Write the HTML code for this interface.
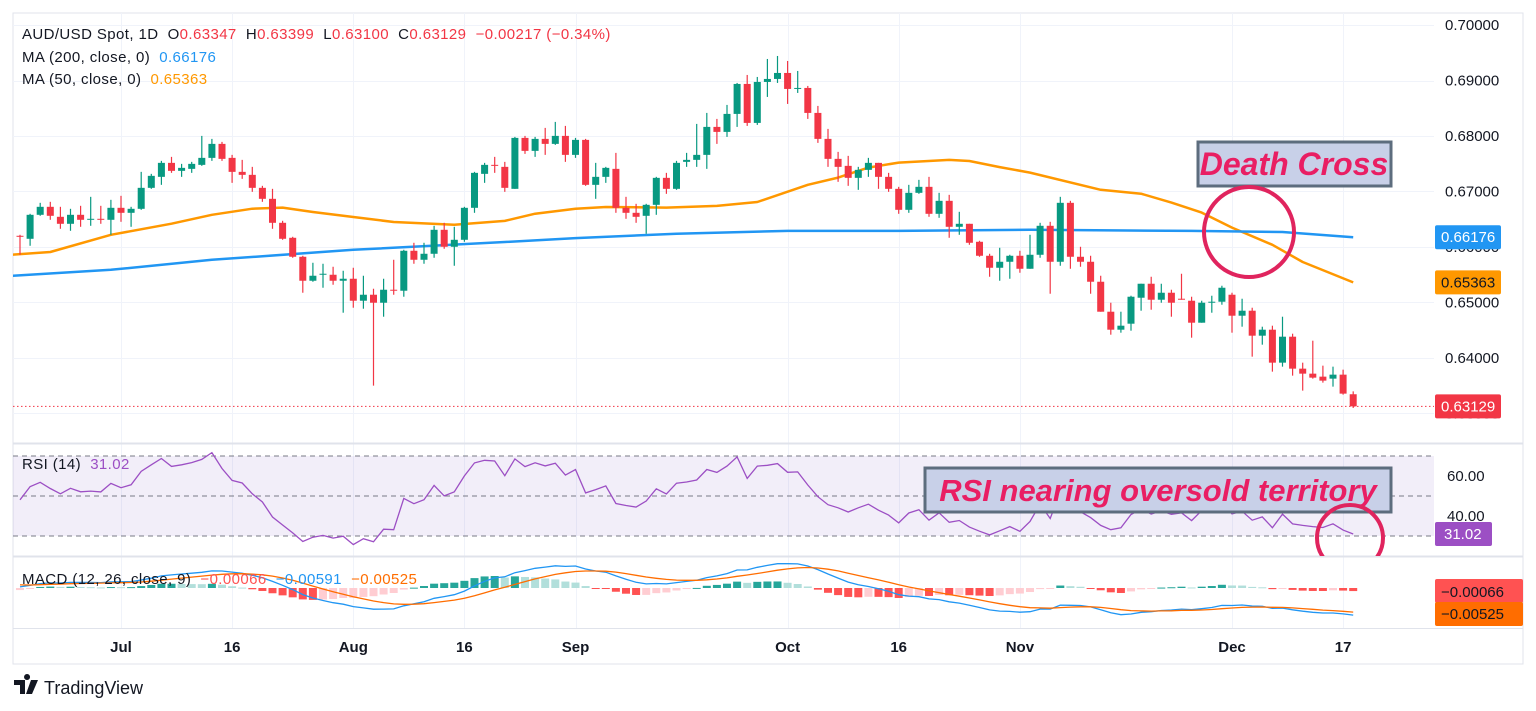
<!DOCTYPE html>
<html><head><meta charset="utf-8"><style>
html,body{margin:0;padding:0;background:#fff;width:1536px;height:711px;overflow:hidden}
svg{display:block;font-family:"Liberation Sans",sans-serif}
</style></head><body>
<svg id="chart" width="1536" height="711" viewBox="0 0 1536 711" xmlns="http://www.w3.org/2000/svg">
<defs>
<clipPath id="cp-price"><rect x="13" y="13" width="1421" height="430"/></clipPath>
<clipPath id="cp-rsi"><rect x="13" y="444" width="1421" height="112"/></clipPath>
<clipPath id="cp-macd"><rect x="13" y="557" width="1421" height="71"/></clipPath>
</defs>
<rect x="13" y="13" width="1510" height="651" fill="#fff" stroke="#e0e3eb"/>
<g id="grid"></g>
<line x1="13" y1="443.5" x2="1523" y2="443.5" stroke="#e0e3eb" stroke-width="2"/>
<line x1="13" y1="556.5" x2="1523" y2="556.5" stroke="#e0e3eb" stroke-width="2"/>
<line x1="13" y1="628.5" x2="1523" y2="628.5" stroke="#e0e3eb"/>
<g id="price-pane" clip-path="url(#cp-price)"></g>
<g id="rsi-pane" clip-path="url(#cp-rsi)"></g>
<g id="macd-pane" clip-path="url(#cp-macd)"></g>
<g id="axes"></g>

<g font-size="15" letter-spacing="0.4">
<text x="22" y="39" fill="#131722">AUD/USD Spot, 1D&#160;&#160;O<tspan fill="#f23645">0.63347</tspan>&#160;&#160;H<tspan fill="#f23645">0.63399</tspan>&#160;&#160;L<tspan fill="#f23645">0.63100</tspan>&#160;&#160;C<tspan fill="#f23645">0.63129</tspan>&#160;&#160;<tspan fill="#f23645">−0.00217 (−0.34%)</tspan></text>
<text x="22" y="62" fill="#131722">MA (200, close, 0)&#160;&#160;<tspan fill="#2196f3">0.66176</tspan></text>
<text x="22" y="84" fill="#131722">MA (50, close, 0)&#160;&#160;<tspan fill="#ff9800">0.65363</tspan></text>
<text x="22" y="469" fill="#131722">RSI (14)&#160;&#160;<tspan fill="#9c4fc4">31.02</tspan></text>
<text x="22" y="584" fill="#131722">MACD (12, 26, close, 9)&#160;&#160;<tspan fill="#ff5252">−0.00066</tspan>&#160;&#160;<tspan fill="#2196f3">−0.00591</tspan>&#160;&#160;<tspan fill="#ff6d00">−0.00525</tspan></text>
</g>

<g>
<rect x="1198" y="142" width="193" height="44" fill="#c8d0e8" stroke="#5d6d7e" stroke-width="3"/>
<text x="1294" y="175" text-anchor="middle" font-size="32" font-weight="bold" font-style="italic" fill="#e91e63">Death Cross</text>
<circle cx="1249" cy="232" r="45" fill="none" stroke="#e0245e" stroke-width="4"/>
</g>
<g>
<rect x="925" y="468" width="466" height="44" fill="#c8d0e8" stroke="#5d6d7e" stroke-width="3"/>
<text x="1158" y="501" text-anchor="middle" font-size="31" font-weight="bold" font-style="italic" fill="#e91e63">RSI nearing oversold territory</text>
<g clip-path="url(#cp-rsi)"><ellipse cx="1350" cy="538" rx="33" ry="33" fill="none" stroke="#e0245e" stroke-width="4"/></g>
</g>

<g>
<path d="M14 680h11v14h-5v-9h-6z M27 680a3 3 0 1 1 0.1 0z" fill="#131722"/>
<path d="M31 680h7l-6 14h-6z" fill="#131722"/>
<text x="44" y="694" font-size="18" fill="#131722">TradingView</text>
</g>
</svg>
<script>
// ===== data =====
const opens=[.66202,.66148,.66580,.66724,.66544,.66418,.66580,.66490,.66508,.66490,.66706,.66616,.66688,.67066,.67264,.67516,.67372,.67408,.67480,.67606,.67858,.67606,.67354,.67300,.67066,.66868,.66436,.66166,.65824,.65392,.65500,.65500,.65392,.65428,.65032,.65140,.64996,.65230,.65212,.65932,.65770,.65878,.66310,.66004,.66130,.66706,.67318,.67480,.67444,.67048,.67966,.67732,.67948,.67858,.68002,.67660,.67930,.67120,.67264,.67408,.66706,.66616,.66562,.66760,.67246,.67048,.67534,.67570,.67660,.68164,.68074,.68398,.68938,.68236,.68974,.69028,.69136,.68848,.68866,.68416,.67948,.67588,.67462,.67246,.67390,.67516,.67264,.67048,.66670,.66976,.67084,.66598,.66832,.66364,.66418,.66094,.65842,.65626,.65734,.65842,.65608,.65860,.66382,.65734,.66796,.65824,.65734,.65374,.64834,.64510,.64618,.65086,.65338,.65050,.65176,.65068,.65032,.64636,.64996,.65014,.65140,.64762,.64852,.64402,.64510,.63916,.64384,.63808,.63718,.63664,.63628,.63700,.63347];
const highs=[.66220,.66598,.66796,.66814,.66724,.66688,.66742,.66904,.66742,.66850,.66922,.66724,.67354,.67318,.67552,.67624,.67498,.67534,.68002,.67948,.67894,.67660,.67570,.67444,.67102,.67048,.66472,.66184,.65842,.65716,.65698,.65644,.65572,.65626,.65482,.65248,.65428,.65770,.65950,.66076,.66076,.66382,.66436,.66364,.66724,.67354,.67516,.67624,.67534,.67984,.68002,.67984,.68146,.68254,.68182,.67966,.67948,.67516,.67444,.67696,.66904,.66778,.66778,.67264,.67336,.67552,.67696,.68218,.68416,.68308,.68560,.68956,.69100,.69064,.69388,.69442,.69352,.69172,.68902,.68542,.68128,.67714,.67642,.67444,.67606,.67516,.67336,.67084,.67120,.67210,.67264,.66976,.66940,.66634,.66418,.66112,.65878,.65986,.65860,.65932,.66220,.66436,.66454,.66904,.66832,.66004,.65842,.65482,.64996,.64834,.65122,.65338,.65464,.65338,.65230,.65518,.65104,.65032,.65122,.65302,.65176,.65068,.64906,.64564,.64582,.64744,.64438,.63916,.64312,.63862,.63844,.63790,.63399];
const lows=[.65860,.66022,.66562,.66490,.66328,.66292,.66364,.66382,.66418,.66220,.66454,.66364,.66670,.67048,.67120,.67336,.67264,.67336,.67462,.67552,.67552,.67156,.67228,.66994,.66814,.66328,.66130,.65806,.65176,.65374,.65266,.65320,.64816,.64906,.64888,.63502,.64744,.65140,.65104,.65698,.65698,.65806,.65968,.65662,.66094,.66616,.67156,.67336,.66994,.67048,.67678,.67624,.67660,.67840,.67534,.67606,.67102,.66868,.67156,.66616,.66508,.66436,.66238,.66580,.66958,.67030,.67444,.67444,.67408,.67858,.67984,.68164,.68182,.68200,.68704,.68956,.68578,.68776,.68308,.67876,.67444,.67174,.67102,.67030,.67264,.67048,.66994,.66598,.66616,.66958,.66544,.66526,.66166,.66220,.66040,.65824,.65464,.65392,.65428,.65536,.65608,.65806,.65158,.65662,.65608,.65644,.65158,.64834,.64420,.64456,.64492,.64852,.64870,.64996,.64744,.65050,.64366,.64636,.64816,.64960,.64456,.64564,.64024,.64240,.63754,.63844,.63682,.63412,.63628,.63556,.63484,.63340,.63100];
const closes=[.66184,.66580,.66724,.66562,.66418,.66580,.66490,.66508,.66490,.66706,.66616,.66688,.67066,.67282,.67516,.67372,.67426,.67498,.67606,.67858,.67588,.67354,.67300,.67066,.66868,.66436,.66148,.65824,.65392,.65482,.65518,.65392,.65428,.65032,.65140,.64996,.65230,.65212,.65932,.65770,.65878,.66310,.66004,.66130,.66706,.67336,.67480,.67462,.67066,.67966,.67732,.67948,.67858,.68002,.67660,.67930,.67120,.67264,.67426,.66706,.66616,.66544,.66760,.67246,.67048,.67516,.67570,.67660,.68164,.68074,.68398,.68938,.68236,.68974,.69028,.69136,.68848,.68866,.68416,.67948,.67588,.67444,.67246,.67390,.67516,.67264,.67048,.66670,.66976,.67084,.66598,.66832,.66364,.66418,.66076,.65842,.65626,.65734,.65842,.65608,.65860,.66382,.65734,.66796,.65824,.65734,.65374,.64834,.64510,.64582,.65104,.65338,.65050,.65176,.64996,.65050,.64636,.64996,.65014,.65266,.64762,.64852,.64402,.64510,.63916,.64384,.63808,.63718,.63646,.63592,.63700,.63358,.63129];
const ma50Idx=[-1,3,9,15,19,23,26,29,33,37,43,48,51,55,58,64,69,73,78,81,84,87,92,94,97,100,107,111,114,117,120,124,127,132];
const ma50Val=[.6586,.6591,.6622,.6642,.6658,.6669,.6671,.6663,.6654,.6645,.6640,.6647,.6660,.6669,.6672,.6671,.6674,.6681,.6712,.6725,.6743,.6752,.6757,.6755,.6744,.6734,.6703,.6696,.6680,.6662,.6635,.6604,.6573,.65363];
const ma200Idx=[-1,9,19,33,48,55,65,76,87,100,116,125,132];
const ma200Val=[.6548,.6559,.6577,.6595,.6609,.6616,.6624,.6629,.6629,.6631,.6629,.6627,.66176];
const priceTicks=[0.70,0.69,0.68,0.67,0.66,0.65,0.64,0.63];
const priceTickLabels=["0.70000","0.69000","0.68000","0.67000","0.66000","0.65000","0.64000","0.63000"];
const timeTickIdx=[10,21,33,44,55,76,87,99,120,131];
const timeTickLabels=["Jul","16","Aug","16","Sep","Oct","16","Nov","Dec","17"];
const rsiTicks=[60,40];
const rsiTickLabels=["60.00","40.00"];

// ===== axis functions =====
const NS="http://www.w3.org/2000/svg";
const xOf=i=>20+i*10.1;
const yP=p=>25+(0.70-p)*5550;
const yR=v=>476+(60-v)*2;
const yM=v=>588-v*4575;
function mk(tag,attrs,parent){const e=document.createElementNS(NS,tag);for(const k in attrs)e.setAttribute(k,attrs[k]);parent.appendChild(e);return e;}

const grid=document.getElementById('grid');
const pp=document.getElementById('price-pane');
const rp=document.getElementById('rsi-pane');
const mp=document.getElementById('macd-pane');
const ax=document.getElementById('axes');

timeTickIdx.forEach((t,k)=>{const x=Math.round(xOf(t))+.5;
 const l=mk('line',{x1:x,y1:13,x2:x,y2:628,stroke:'#f0f3fa'},grid);
 
 
 const tx=mk('text',{x:xOf(t),y:652,'text-anchor':'middle','font-size':15,'font-weight':'bold',fill:'#131722'},ax);
 tx.textContent=timeTickLabels[k];
 
 
});
priceTicks.forEach((p,k)=>{const y=Math.round(yP(p))+.5;
 const l=mk('line',{x1:13,y1:y,x2:1434,y2:y,stroke:'#f0f3fa'},grid);
 
 
 const tx=mk('text',{x:1445,y:yP(p)+5,'font-size':15,fill:'#131722'},ax);
 tx.textContent=priceTickLabels[k];
 
 
});

function path(idx,val,f){return idx.map((i,k)=>(k?'L':'M')+xOf(i).toFixed(1)+' '+f(val[k]).toFixed(1)).join(' ');}
const m50=mk('path',{d:path(ma50Idx,ma50Val,yP),fill:'none',stroke:'#ff9800','stroke-width':2.5,'stroke-linejoin':'round'},pp);


const m200=mk('path',{d:path(ma200Idx,ma200Val,yP),fill:'none',stroke:'#2196f3','stroke-width':2.5,'stroke-linejoin':'round'},pp);



closes.forEach((c,i)=>{const o=opens[i],up=c>=o,col=up?'#089981':'#f23645';const x=xOf(i);
 const g=mk('g',{},pp);
 
 
 mk('line',{x1:x,y1:yP(highs[i]),x2:x,y2:yP(lows[i]),stroke:col,'stroke-width':1.2},g);
 const t=yP(Math.max(o,c)),b=yP(Math.min(o,c));
 mk('rect',{x:x-3.5,y:t,width:7,height:Math.max(1,b-t),fill:col},g);
});
const lastY=yP(closes[closes.length-1]);
const lp=mk('line',{x1:13,y1:lastY,x2:1434,y2:lastY,stroke:'#f23645','stroke-dasharray':'1.5 2.5'},pp);



function badge(y,txt,bg,fg,name){const g=mk('g',{},ax);
 
 
 mk('rect',{x:1435,y:y-12,width:66,height:24,rx:2,fill:bg},g);
 const t=mk('text',{x:1441,y:y+5,'font-size':15,fill:fg},g);t.textContent=txt;}
badge(yP(ma200Val[ma200Val.length-1]),'0.66176','#2196f3','#fff','ma200-price-badge');
badge(yP(ma50Val[ma50Val.length-1]),'0.65363','#ff9800','#131722','ma50-price-badge');
badge(lastY,'0.63129','#f23645','#fff','last-price-badge');

// RSI (Wilder, 14) from closes
const rsi=[];let ag=0.00100,al=0.00108;rsi.push(100-100/(1+ag/al));
for(let i=1;i<closes.length;i++){const d=closes[i]-closes[i-1];ag=(ag*13+Math.max(d,0))/14;al=(al*13+Math.max(-d,0))/14;rsi.push(100-100/(1+ag/al));}
const band=mk('rect',{x:13,y:yR(70),width:1421,height:yR(30)-yR(70),fill:'#7e57c2','fill-opacity':0.1},rp);


[70,50,30].forEach(v=>{const l=mk('line',{x1:13,y1:yR(v),x2:1434,y2:yR(v),stroke:'#787b86','stroke-dasharray':'5 4'},rp);
 
 });
const rl=mk('path',{d:rsi.map((v,i)=>(i?'L':'M')+xOf(i).toFixed(1)+' '+yR(v).toFixed(1)).join(' '),fill:'none',stroke:'#9c4fc4','stroke-width':1.3},rp);


rsiTicks.forEach((v,k)=>{const t=mk('text',{x:1447,y:yR(v)+5,'font-size':15,fill:'#131722'},ax);t.textContent=rsiTickLabels[k];
 
 });
{const y=yR(rsi[rsi.length-1]);const g=mk('g',{},ax);
 
 
 mk('rect',{x:1435,y:y-12,width:57,height:24,rx:2,fill:'#9c4fc4'},g);
 const t=mk('text',{x:1444,y:y+5,'font-size':15,fill:'#fff'},g);t.textContent='31.02';}

// MACD (12,26,9) from closes
let e12=0.6612,e26=0.6610,sg=0.0008;const macd=[],sig=[],hist=[];
closes.forEach((c,i)=>{e12=e12+(c-e12)*2/13;e26=e26+(c-e26)*2/27;const m=e12-e26;sg=sg+(m-sg)*2/10;macd.push(m);sig.push(sg);hist.push(m-sg);});
hist.forEach((h,i)=>{const prev=i?hist[i-1]:h;let col;
 if(h>=0)col=h>=prev?'#26a69a':'#b2dfdb';else col=h<prev?'#ff5252':'#ffcdd2';
 const y0=yM(0),y1=yM(h);
 const r=mk('rect',{x:xOf(i)-4,y:Math.min(y0,y1),width:8,height:Math.max(1,Math.abs(y1-y0)),fill:col},mp);
 
 });
const ml=mk('path',{d:macd.map((v,i)=>(i?'L':'M')+xOf(i).toFixed(1)+' '+yM(v).toFixed(1)).join(' '),fill:'none',stroke:'#2196f3','stroke-width':1.3},mp);


const sl=mk('path',{d:sig.map((v,i)=>(i?'L':'M')+xOf(i).toFixed(1)+' '+yM(v).toFixed(1)).join(' '),fill:'none',stroke:'#ff6d00','stroke-width':1.3},mp);


{const g=mk('g',{},ax);
 
 
 mk('rect',{x:1435,y:579,width:88,height:24,rx:2,fill:'#ff5252'},g);
 const t=mk('text',{x:1441,y:597,'font-size':15,fill:'#131722'},g);t.textContent='−0.00066';}
{const g=mk('g',{},ax);
 
 
 mk('rect',{x:1435,y:602,width:88,height:24,rx:2,fill:'#ff6d00'},g);
 const t=mk('text',{x:1441,y:619,'font-size':15,fill:'#131722'},g);t.textContent='−0.00525';}
</script>
</body></html>
